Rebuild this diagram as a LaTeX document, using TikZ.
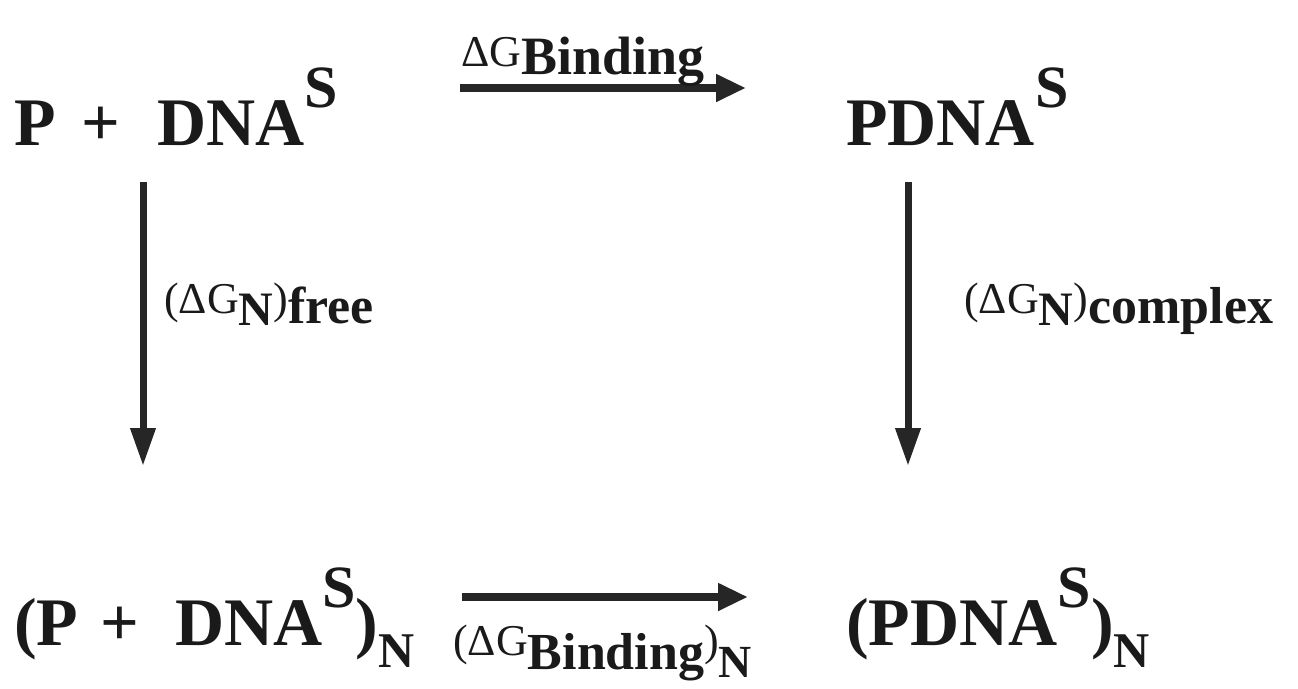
\documentclass[tikz,border=0pt]{standalone}
\usepackage{fontspec}
\setmainfont{Liberation Serif}
\usetikzlibrary{arrows.meta}
\definecolor{ink}{HTML}{1A1A1A}
\definecolor{arrowink}{HTML}{262626}
\newcommand{\mainsz}{\fontsize{68}{72}\selectfont\bfseries}
\newcommand{\supS}{\raisebox{38pt}{\fontsize{60}{64}\selectfont\bfseries S}}
\newcommand{\subN}{\raisebox{-22pt}{\fontsize{50}{60}\selectfont\bfseries N}}
\newcommand{\labsz}{\fontsize{44}{48}\selectfont\mdseries}
\newcommand{\labsub}[3]{\raisebox{-#1}{\fontsize{#2}{#2}\selectfont\bfseries #3}}
\tikzset{
  species/.style={anchor=base west, inner sep=0pt, text=ink, font=\mainsz},
  lab/.style={anchor=base west, inner sep=0pt, text=ink, font=\labsz},
  harr/.style={draw=arrowink, line width=8pt, -{Triangle[length=30pt,width=26pt]}},
  varr/.style={draw=arrowink, line width=7pt, -{Triangle[length=38pt,width=24pt]}}
}
\begin{document}
\begin{tikzpicture}[x=1pt,y=-1pt]
\useasboundingbox (0,0) rectangle (1298,688);
% species
\node[species] (A) at (14,145) {P\hspace{26pt}+\hspace{37pt}DNA\supS};
\node[species] (B) at (846,145) {PDNA\supS};
\node[species] (C) at (14,645) {(P\hspace{22pt}+\hspace{36pt}DNA\supS)\subN};
\node[species] (D) at (846,645) {(PDNA\supS)\subN};
% arrow end points
\coordinate (t1) at (460,88);  \coordinate (t2) at (746,88);
\coordinate (l1) at (143,182); \coordinate (l2) at (143,466);
\coordinate (r1) at (908,182); \coordinate (r2) at (908,466);
\coordinate (b1) at (462,597); \coordinate (b2) at (748,597);
\draw[harr] (t1) -- (t2);
\draw[varr] (l1) -- (l2);
\draw[varr] (r1) -- (r2);
\draw[harr] (b1) -- (b2);
% labels
\node[lab] (L1) at (461,66) {ΔG\labsub{8pt}{54pt}{Binding}};
\node[lab] (L2) at (164,313) {(ΔG\labsub{12pt}{48pt}{N})\labsub{10pt}{52pt}{free}};
\node[lab] (L3) at (964,313) {(ΔG\labsub{12pt}{48pt}{N})\labsub{10pt}{52pt}{complex}};
\node[lab] (L4) at (453,655) {(ΔG\labsub{14pt}{52pt}{Binding})\labsub{22pt}{46pt}{N}};
\end{tikzpicture}
\end{document}
